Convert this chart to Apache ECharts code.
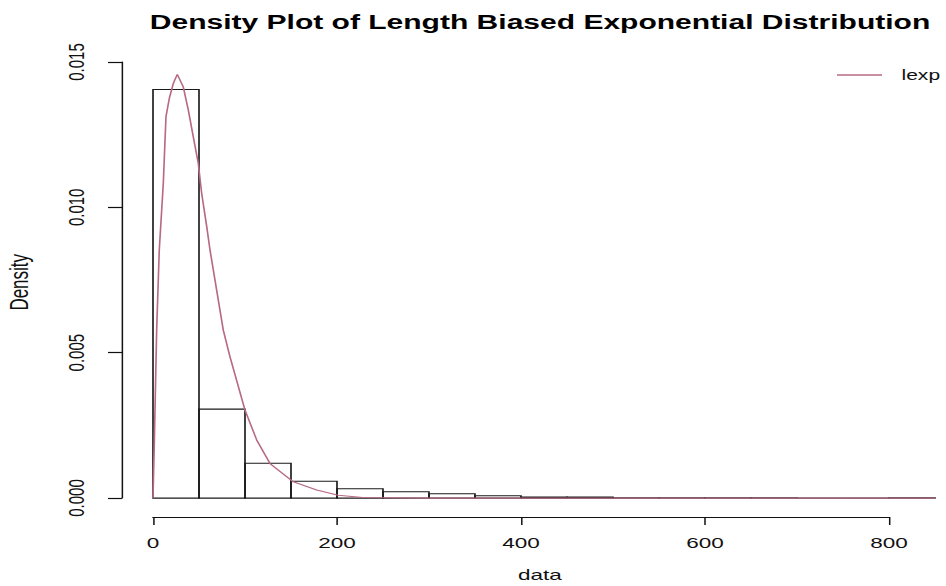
<!DOCTYPE html>
<html><head><meta charset="utf-8">
<script src="https://cdn.jsdelivr.net/npm/echarts@6/dist/echarts.min.js"></script>
<style>
html,body{margin:0;padding:0;background:#fff;overflow:hidden;width:946px;height:586px}
#c{width:630px;height:586px;transform:scaleX(1.5016);transform-origin:0 0;}
</style>
</head><body><div id="c"></div>
<script>
// Histogram bins (edges) and densities
const binEdges = [0, 50, 100, 150, 200, 250, 300, 350, 400, 450, 500, 550, 600, 650, 700, 750, 800, 850];
const density = [0.01406, 0.00306, 0.00120, 0.00058, 0.00032, 0.00022, 0.00015, 0.00008, 0.00004, 0.00004, 0.00001, 0.00001, 0.00001, 0.00001, 0, 0, 0.00001];
// Fitted length-biased exponential curve
const curveX = [0, 1.5, 4.0, 6.8, 11.2, 14.1, 17.7, 22.1, 26.4, 32.9, 38.4, 43.8, 49.2, 52.9, 58.4, 62.0, 76.4, 83.7, 100, 112.7, 127.2, 152.5, 177.9, 201.4, 228, 300, 850];
const curveY = [0, 0.0020, 0.0058, 0.00853, 0.01083, 0.01312, 0.01375, 0.01427, 0.01458, 0.01415, 0.01335, 0.01243, 0.01152, 0.01049, 0.00934, 0.00853, 0.00578, 0.00486, 0.00303, 0.00200, 0.00119, 0.00056, 0.00028, 0.00010, 0.00002, 0, 0];
const xTickValues = [0, 200, 400, 600, 800];
const yTickValues = [0, 0.005, 0.010, 0.015];
const titleText = 'Density Plot of Length Biased Exponential Distribution';
const xName = 'data';
const yName = 'Density';
const seriesName = 'lexp';

const S = 946 / 630;
const X = px => px / S;
const FONT = 'Liberation Sans, Arial, sans-serif';
const curveColor = '#b86a82';

const chart = echarts.init(document.getElementById('c'), null, {renderer: 'svg'});
chart.setOption({
  animation: false,
  backgroundColor: '#fff',
  title: {
    text: titleText,
    left: X(540), top: 12, textAlign: 'center', padding: 0,
    textStyle: {fontFamily: FONT, fontSize: 20, fontWeight: 'bold', color: '#000'}
  },
  legend: {
    data: [{name: seriesName, icon: 'rect'}],
    left: X(837), top: 68, padding: 0,
    itemWidth: X(45), itemHeight: 1.5, itemGap: 0,
    textStyle: {fontFamily: FONT, fontSize: 14, color: '#111', padding: [0, 0, 0, 8]}
  },
  grid: [
    {left: X(121.72), right: 0, top: 47.6, bottom: 69, containLabel: false, outerBoundsMode: 'none'},
    {left: X(122), width: 1, top: 62, bottom: 88, containLabel: false, outerBoundsMode: 'none'},
    {left: X(153), right: X(946 - 889), top: 516, bottom: 69, containLabel: false, outerBoundsMode: 'none'}
  ],
  xAxis: [
    {gridIndex: 0, type: 'value', min: -34, max: 862,
     axisLine: {show: false}, axisTick: {show: false}, axisLabel: {show: false}, splitLine: {show: false},
     name: xName, nameLocation: 'middle', nameGap: 50,
     nameTextStyle: {fontFamily: FONT, fontSize: 15, color: '#111', padding: [0, 0, 0, 8]}},
    {gridIndex: 1, type: 'value', show: false},
    {gridIndex: 2, type: 'value', min: 0, max: 800, interval: 200, position: 'bottom',
     axisLine: {show: true, lineStyle: {color: '#111', width: 1.2}},
     axisTick: {show: true, length: 8, lineStyle: {color: '#111', width: 1}, customValues: xTickValues},
     axisLabel: {fontFamily: FONT, fontSize: 15, color: '#111', margin: 18, customValues: xTickValues},
     splitLine: {show: false}}
  ],
  yAxis: [
    {gridIndex: 0, type: 'value', min: -0.00065, max: 0.0155,
     axisLine: {show: false}, axisTick: {show: false}, axisLabel: {show: false}, splitLine: {show: false},
     name: yName, nameLocation: 'middle', nameGap: 60, nameRotate: 90,
     nameTextStyle: {fontFamily: FONT, fontSize: 17, color: '#111'}},
    {gridIndex: 1, type: 'value', min: 0, max: 0.015, interval: 0.005,
     axisLine: {show: true, lineStyle: {color: '#111', width: 1}},
     axisTick: {show: true, length: X(14), lineStyle: {color: '#111', width: 1.2}, customValues: yTickValues},
     axisLabel: {fontFamily: FONT, fontSize: 15, color: '#111', rotate: 90, margin: X(34),
       customValues: yTickValues, formatter: v => v.toFixed(3)},
     splitLine: {show: false}},
    {gridIndex: 2, type: 'value', show: false}
  ],
  series: [
    {
      type: 'custom', xAxisIndex: 0, yAxisIndex: 0, clip: true,
      data: density.map((d, i) => [binEdges[i], binEdges[i + 1], d]),
      encode: {x: [0, 1], y: 2},
      renderItem: (params, api) => {
        const p0 = api.coord([api.value(0), 0]);
        const p1 = api.coord([api.value(1), api.value(2)]);
        return {type: 'rect',
          shape: {x: p0[0], y: p1[1], width: p1[0] - p0[0], height: p0[1] - p1[1]},
          style: {fill: 'none', stroke: '#1a1a1a', lineWidth: 1.1}};
      },
      z: 2
    },
    {
      name: seriesName, type: 'line', xAxisIndex: 0, yAxisIndex: 0,
      data: curveX.map((x, i) => [x, curveY[i]]),
      showSymbol: false, symbol: 'none',
      lineStyle: {color: curveColor, width: 1.1},
      itemStyle: {color: curveColor},
      z: 3
    }
  ]
});
</script>
</body></html>
